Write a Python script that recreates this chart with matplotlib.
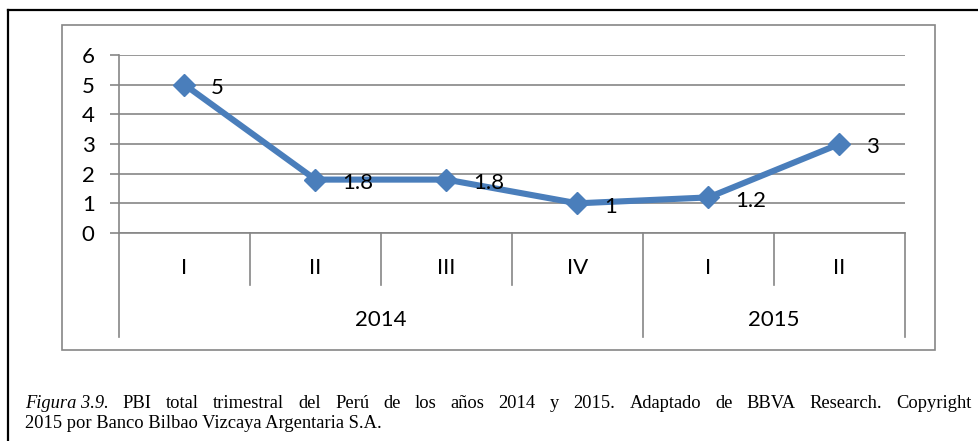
import matplotlib
matplotlib.use("Agg")
import matplotlib.pyplot as plt
from matplotlib.lines import Line2D
from matplotlib.patches import Rectangle
import matplotlib.transforms as mtransforms

quarters = ["I", "II", "III", "IV", "I", "II"]
years = ["2014", "2015"]
year_sizes = [4, 2]
pbi = [5, 1.8, 1.8, 1, 1.2, 3]
value_labels = ["5", "1.8", "1.8", "1", "1.2", "3"]

caption_italic = "Figura 3.9."
caption_line1 = "PBI total trimestral del Perú de los años 2014 y 2015. Adaptado de BBVA Research. Copyright"
caption_line2 = "2015 por Banco Bilbao Vizcaya Argentaria S.A."

W, H = 979, 441
BLUE = "#4a7ebb"
GRAY = "#868686"
CHART_FONT = "Lato"
FS = 16

fig = plt.figure(figsize=(W / 100, H / 100), dpi=100)


def px(x, y):
    # pixel (from top-left) -> figure fraction
    return x / W, 1 - y / H


# outer black frame (only top and left visible in reference)
fig.add_artist(Line2D([8 / W, 1.0], [1 - 10 / H] * 2, color="black", lw=1.6))
fig.add_artist(Line2D([8 / W] * 2, [1 - 10 / H, 0.0], color="black", lw=1.6))

# chart area box
x0, y0 = px(62, 350)
fig.add_artist(Rectangle((x0, y0), (935 - 62) / W, (350 - 25) / H,
                         transform=fig.transFigure, fill=False,
                         edgecolor=GRAY, lw=1.2))

# plot area
left, bottom = px(119, 233)
ax = fig.add_axes([left, bottom, (905 - 119) / W, (233 - 55) / H])
ax.set_xlim(-0.5, len(pbi) - 0.5)
ax.set_ylim(0, 6)
ax.set_yticks(range(7))
ax.grid(axis="y", color=GRAY, lw=1.2)
ax.set_axisbelow(True)
for s in ("top", "right", "bottom"):
    ax.spines[s].set_visible(False)
ax.spines["left"].set_color(GRAY)
ax.spines["left"].set_linewidth(1.2)
ax.tick_params(axis="y", length=6.5, width=1.2, color=GRAY, pad=11,
               labelsize=FS)
for t in ax.get_yticklabels():
    t.set_fontfamily(CHART_FONT)
ax.set_xticks([])

xs = list(range(len(pbi)))
ax.plot(xs, pbi, color=BLUE, lw=4.4, marker="D", markersize=11,
        markerfacecolor=BLUE, markeredgecolor=BLUE, clip_on=False, zorder=3)
for x, v, lab in zip(xs, pbi, value_labels):
    ax.annotate(lab, (x, v), xytext=(19, -2.5), textcoords="offset points",
                ha="left", va="center", fontsize=FS, family=CHART_FONT,
                zorder=4)

# multi-level category axis
trans = mtransforms.blended_transform_factory(ax.transData, ax.transAxes)
h1 = -(285 - 233) / (233 - 55)
h2 = -(337 - 233) / (233 - 55)
ax.plot([-0.5, len(pbi) - 0.5], [0, 0], transform=trans, color=GRAY,
        lw=1.2, clip_on=False)
bounds = [-0.5]
for n in year_sizes:
    bounds.append(bounds[-1] + n)
for i in range(len(pbi) + 1):
    xb = i - 0.5
    ylow = h2 if xb in bounds else h1
    ax.plot([xb, xb], [0, ylow], transform=trans, color=GRAY, lw=1.2,
            clip_on=False)
for x, q in zip(xs, quarters):
    ax.text(x, -(268 - 233) / 178, q, transform=trans, ha="center",
            va="center", fontsize=FS, family=CHART_FONT)
for i, yr in enumerate(years):
    xc = (bounds[i] + bounds[i + 1]) / 2
    ax.text(xc, -(320 - 233) / 178, yr, transform=trans, ha="center",
            va="center", fontsize=FS, family=CHART_FONT)

# caption, first line justified between x=25 and x=972
fig.canvas.draw()
r = fig.canvas.get_renderer()
cap_kw = dict(fontsize=13.3, family="Liberation Serif", va="baseline",
              ha="left", transform=fig.transFigure)
words = [(caption_italic, "italic")] + [(w, "normal") for w in caption_line1.split()]
tokens = []
for w, st in words:
    t = fig.text(0, 0, w, style=st, **cap_kw)
    bb = t.get_window_extent(renderer=r)
    tokens.append((t, bb.width))
total = sum(wd for _, wd in tokens)
gap = (972 - 25 - total) / (len(tokens) - 1)
xcur = 25
yb = 1 - 408 / H
for t, wd in tokens:
    t.set_position((xcur / W, yb))
    xcur += wd + gap
fig.text(25 / W, 1 - 428 / H, caption_line2, **cap_kw)

fig.savefig("out.png", dpi=100)
